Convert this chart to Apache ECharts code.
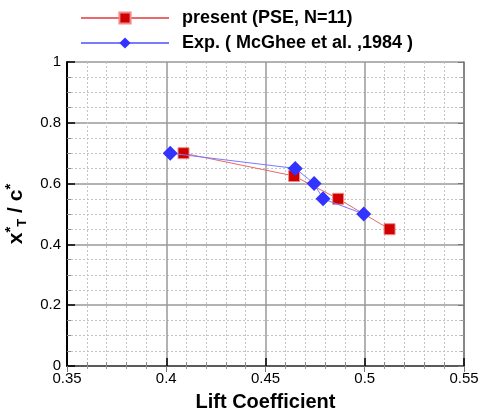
<!doctype html>
<html lang="en">
<head>
    <meta charset="UTF-8">
    <script src="https://cdn.jsdelivr.net/npm/echarts@6/dist/echarts.min.js"></script>
    <title>Transition location vs lift coefficient</title>
    <style>
        html, body { margin: 0; padding: 0; background: #fff; }
    </style>
</head>
<body>
<div id="main" style="width: 481px;height:413px;"></div>
<script>
    // data
    var pseLift = [0.4087, 0.4644, 0.4866, 0.5125];
    var pseXt = [0.70, 0.625, 0.55, 0.45];
    var expLift = [0.402, 0.465, 0.4745, 0.479, 0.4995];
    var expXt = [0.70, 0.65, 0.60, 0.55, 0.50];
    var seriesNames = ['present (PSE, N=11)', 'Exp. ( McGhee et al. ,1984 )'];

    function pairs(xs, ys) {
        var out = [];
        for (var i = 0; i < xs.length; i++) {
            out.push([xs[i], ys[i]]);
        }
        return out;
    }

    var myChart = echarts.init(document.getElementById('main'));
    var font = 'Liberation Sans, Arial, sans-serif';

    var option = {
        backgroundColor: '#fff',
        animation: false,
        textStyle: { fontFamily: font },
        legend: {
            orient: 'vertical',
            left: 75,
            top: 4,
            itemWidth: 88,
            itemHeight: 14,
            itemGap: 7,
            data: seriesNames,
            textStyle: {
                fontFamily: font,
                fontSize: 18,
                fontWeight: 'bold',
                color: '#000',
                padding: [0, 0, 0, 8]
            }
        },
        grid: {
            left: 67,
            right: 17,
            top: 62,
            bottom: 47,
            outerBoundsMode: 'none'
        },
        xAxis: [{
            type: 'value',
            min: 0.35,
            max: 0.55,
            interval: 0.05,
            name: 'Lift Coefficient',
            nameLocation: 'middle',
            nameGap: 26,
            nameTextStyle: { fontFamily: font, fontSize: 20, fontWeight: 'bold', color: '#000' },
            axisLine: { lineStyle: { color: '#000', width: 2 } },
            axisTick: { inside: true, length: 8, lineStyle: { color: '#000', width: 1.5 } },
            minorTick: { show: true, splitNumber: 5, length: 4, lineStyle: { color: '#888' } },
            axisLabel: { fontFamily: font, fontSize: 15, color: '#000', margin: 5 },
            splitLine: { lineStyle: { color: '#999', width: 1.5 } },
            minorSplitLine: { show: true, lineStyle: { color: '#c4c4c4', type: [2, 2], width: 1 } }
        }, {
            type: 'value',
            position: 'top',
            min: 0.35,
            max: 0.55,
            interval: 0.05,
            axisLine: { show: true, lineStyle: { color: '#777', width: 1.5 } },
            axisTick: { inside: true, length: 6, lineStyle: { color: '#777' } },
            minorTick: { show: true, splitNumber: 5, length: 3, lineStyle: { color: '#999' } },
            axisLabel: { show: false },
            splitLine: { show: false }
        }],
        yAxis: [{
            type: 'value',
            min: 0,
            max: 1,
            interval: 0.2,
            name: '{x|x}{sp|*}{sb|T}{x| / c}{sp|*}',
            nameLocation: 'middle',
            nameGap: 37,
            nameTextStyle: {
                fontFamily: font,
                color: '#000',
                rich: {
                    x: { fontFamily: font, fontSize: 21, fontWeight: 'bold', lineHeight: 26, verticalAlign: 'middle' },
                    sp: { fontFamily: font, fontSize: 15, fontWeight: 'bold', lineHeight: 26, verticalAlign: 'top' },
                    sb: { fontFamily: font, fontSize: 13, fontWeight: 'bold', lineHeight: 26, verticalAlign: 'bottom' }
                }
            },
            axisLine: { show: true, lineStyle: { color: '#000', width: 2 } },
            axisTick: { show: true, inside: true, length: 8, lineStyle: { color: '#000', width: 1.5 } },
            minorTick: { show: true, splitNumber: 4, length: 4, lineStyle: { color: '#888' } },
            axisLabel: { fontFamily: font, fontSize: 15, color: '#000', margin: 6 },
            splitLine: { lineStyle: { color: '#999', width: 1.5 } },
            minorSplitLine: { show: true, lineStyle: { color: '#c4c4c4', type: [2, 2], width: 1 } }
        }, {
            type: 'value',
            position: 'right',
            min: 0,
            max: 1,
            interval: 0.2,
            axisLine: { show: true, lineStyle: { color: '#777', width: 1.5 } },
            axisTick: { show: true, inside: true, length: 6, lineStyle: { color: '#777' } },
            minorTick: { show: true, splitNumber: 4, length: 3, lineStyle: { color: '#999' } },
            axisLabel: { show: false },
            splitLine: { show: false }
        }],
        series: [{
            name: seriesNames[0],
            type: 'line',
            data: pairs(pseLift, pseXt),
            symbol: 'rect',
            symbolSize: 11,
            z: 3,
            itemStyle: { color: '#d00000', borderColor: '#f08a8a', borderWidth: 1 },
            lineStyle: { color: '#e86a6a', width: 1 }
        }, {
            name: seriesNames[1],
            type: 'line',
            data: pairs(expLift, expXt),
            symbol: 'diamond',
            symbolSize: 15,
            z: 4,
            itemStyle: { color: '#3333ff' },
            lineStyle: { color: '#7a7aff', width: 1 }
        }]
    };

    myChart.setOption(option);
</script>
</body>
</html>
